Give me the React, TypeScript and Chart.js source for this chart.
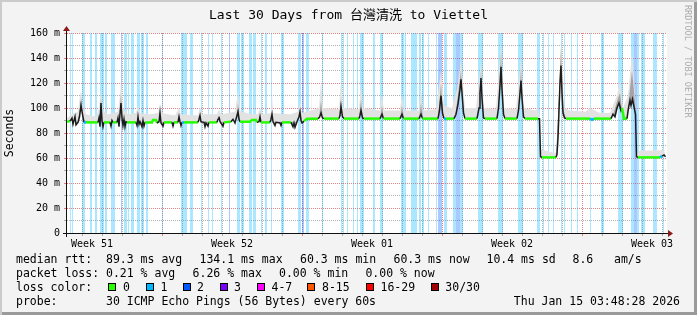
import React, { useEffect, useRef } from 'react';
import { Chart, registerables } from 'chart.js';

Chart.register(...registerables);

// ---------------- data ----------------
const chartTitle = 'Last 30 Days from 台灣清洗 to Viettel';
const yAxisTitle = 'Seconds';
const yMax = 160;
const dayGridDays = [0.75, 1.75, 2.75, 3.75, 4.75, 5.75, 6.75, 7.75, 8.75, 9.75, 10.75, 11.75, 12.75, 13.75, 14.75, 15.75, 16.75, 17.75, 18.75, 19.75, 20.75, 21.75, 22.75, 23.75, 24.75, 25.75, 26.75, 27.75, 28.75, 29.75];
const weekStartDays = [4.75, 11.75, 18.75, 25.75];
const weekLabelDays = [1.25, 8.25, 15.25, 22.25, 29.25];
const weekLabels = ['Week 51', 'Week 52', 'Week 01', 'Week 02', 'Week 03'];

// median rtt [day, ms, tone]  tone: g = 0 loss, b = 1 loss, k = dense smoke core
const medianSeries: [number, number, string][] = [
  [0, 89, 'g'], [0.15, 89.5, 'g'], [0.25, 92, 'k'], [0.3, 87, 'k'], [0.4, 93, 'k'], [0.45, 86.5, 'k'], [0.55, 88.5, 'g'],
  [0.625, 93, 'k'], [0.7, 102, 'k'], [0.775, 95, 'k'], [0.85, 88.5, 'b'], [0.95, 88.5, 'g'], [1.55, 88.5, 'g'],
  [1.6, 92, 'k'], [1.65, 85, 'k'], [1.7, 104, 'k'], [1.75, 90, 'k'], [1.8, 85, 'k'], [1.85, 88.5, 'g'], [2.15, 88.5, 'g'],
  [2.2, 85.5, 'k'], [2.25, 90, 'k'], [2.3, 88.5, 'g'], [2.5, 88.5, 'g'], [2.55, 92, 'k'], [2.6, 85, 'k'], [2.65, 95, 'k'],
  [2.7, 104, 'k'], [2.75, 92, 'k'], [2.8, 86, 'k'], [2.85, 91, 'k'], [2.9, 85, 'k'], [2.95, 89, 'k'], [3.0, 88.5, 'g'],
  [3.45, 88.5, 'g'], [3.5, 86, 'k'], [3.55, 93, 'k'], [3.6, 87, 'k'], [3.65, 89, 'g'], [3.75, 85, 'k'], [3.8, 90, 'k'],
  [3.85, 85.5, 'k'], [3.9, 88.5, 'g'], [4.25, 88.5, 'g'], [4.3, 90.5, 'g'], [4.45, 90.5, 'g'], [4.5, 88, 'g'],
  [4.6, 89, 'k'], [4.65, 96, 'k'], [4.7, 88, 'k'], [4.8, 85.5, 'k'], [4.85, 88.5, 'g'], [5.25, 88.5, 'g'], [5.3, 85.5, 'k'],
  [5.35, 88.5, 'g'], [5.55, 88.5, 'g'], [5.6, 93, 'k'], [5.65, 89, 'k'], [5.7, 86, 'k'], [5.75, 88.5, 'b'], [5.85, 88.5, 'g'],
  [6.55, 88.5, 'g'], [6.6, 91, 'k'], [6.65, 94, 'k'], [6.7, 89, 'k'], [6.85, 88.5, 'g'], [6.9, 85, 'k'], [6.95, 88, 'k'],
  [7.05, 85.5, 'k'], [7.1, 88.5, 'g'], [7.5, 88.5, 'g'], [7.55, 91, 'k'], [7.6, 93, 'k'], [7.65, 89, 'g'], [7.8, 85.5, 'k'],
  [7.85, 88.5, 'g'], [8.2, 89, 'g'], [8.3, 91, 'k'], [8.4, 88, 'k'], [8.5, 94, 'k'], [8.55, 97, 'k'], [8.6, 91, 'k'],
  [8.65, 89, 'g'], [9.15, 89, 'g'], [9.25, 90.5, 'g'], [9.45, 90.5, 'g'], [9.5, 88.5, 'g'], [9.6, 89, 'k'], [9.65, 93, 'k'],
  [9.7, 88.5, 'g'], [10.15, 88.5, 'g'], [10.2, 91, 'k'], [10.25, 95, 'k'], [10.3, 89, 'k'], [10.4, 86, 'k'], [10.45, 88.5, 'g'],
  [10.65, 88, 'k'], [10.7, 86, 'k'], [10.75, 88.5, 'g'], [11.2, 88.5, 'g'], [11.3, 85, 'k'], [11.35, 88, 'k'], [11.4, 84.5, 'k'],
  [11.5, 89, 'k'], [11.6, 93, 'k'], [11.65, 97, 'k'], [11.7, 90, 'k'], [11.75, 88, 'k'], [11.85, 89.5, 'g'], [12.0, 91.5, 'g'],
  [12.55, 91.5, 'g'], [12.625, 92.5, 'k'], [12.7, 96, 'k'], [12.775, 92, 'k'], [12.85, 91.5, 'g'], [13.6, 91.5, 'g'],
  [13.65, 94, 'k'], [13.7, 101, 'k'], [13.775, 93, 'k'], [13.85, 91.5, 'g'], [14.6, 91.5, 'g'], [14.65, 94, 'k'], [14.7, 98, 'k'],
  [14.775, 92, 'k'], [14.85, 91.5, 'g'], [15.65, 91.5, 'g'], [15.75, 95, 'k'], [15.825, 91.5, 'g'], [16.65, 91.5, 'g'],
  [16.75, 95, 'k'], [16.825, 91.5, 'g'], [17.6, 91.5, 'g'], [17.7, 95, 'k'], [17.775, 91.5, 'g'], [18.55, 91.5, 'g'],
  [18.625, 98, 'k'], [18.7, 110, 'k'], [18.775, 96, 'k'], [18.85, 91.5, 'b'], [18.95, 91.5, 'g'], [19.35, 91.5, 'g'],
  [19.45, 95, 'k'], [19.55, 103, 'k'], [19.65, 115, 'k'], [19.7, 123, 'k'], [19.75, 112, 'k'], [19.825, 96, 'k'], [19.9, 91.5, 'g'],
  [20.5, 91.5, 'g'], [20.6, 100, 'k'], [20.65, 112, 'k'], [20.7, 124, 'k'], [20.75, 108, 'k'], [20.825, 92, 'k'], [20.9, 91.5, 'g'],
  [21.5, 91.5, 'g'], [21.575, 100, 'k'], [21.65, 118, 'k'], [21.7, 133, 'k'], [21.75, 115, 'k'], [21.825, 95, 'k'], [21.9, 91.5, 'g'],
  [22.5, 91.5, 'g'], [22.575, 98, 'k'], [22.65, 112, 'k'], [22.7, 122, 'k'], [22.75, 108, 'k'], [22.825, 93, 'k'], [22.9, 91.5, 'g'],
  [23.55, 91.5, 'g'], [23.625, 91.5, 'k'], [23.675, 61, 'k'], [23.75, 60.5, 'g'], [24.45, 60.5, 'g'], [24.5, 63, 'k'],
  [24.55, 76, 'k'], [24.6, 98, 'k'], [24.65, 120, 'k'], [24.7, 134, 'k'], [24.75, 112, 'k'], [24.8, 96, 'k'], [24.875, 92, 'k'],
  [24.95, 91.5, 'g'], [26.15, 91.5, 'g'], [26.25, 90.5, 'b'], [26.35, 91.5, 'g'], [27.2, 91.5, 'g'], [27.3, 95, 'k'],
  [27.4, 93, 'k'], [27.5, 100, 'k'], [27.6, 104, 'k'], [27.7, 98, 'k'], [27.75, 100, 'g'], [27.85, 91.5, 'g'], [28.0, 91.5, 'g'],
  [28.075, 100, 'k'], [28.15, 106, 'k'], [28.2, 102, 'k'], [28.275, 107, 'k'], [28.35, 101, 'k'], [28.425, 95, 'k'],
  [28.475, 61, 'k'], [28.55, 60.5, 'g'], [29.65, 60.5, 'g'], [29.75, 61.5, 'b'], [29.85, 62.5, 'k'], [29.925, 61, 'g'],
];

// smoke: highest ping of the 30 [day, ms]
const smokeMax: [number, number][] = [
  [0, 92], [0.25, 95], [0.55, 97], [0.65, 110], [0.7, 114], [0.8, 100], [0.95, 95], [1.45, 93], [1.6, 100], [1.7, 114],
  [1.8, 98], [2.05, 95], [2.55, 97], [2.65, 110], [2.7, 122], [2.8, 100], [3.05, 95], [3.45, 96], [3.55, 102], [3.65, 96],
  [4.15, 95], [4.55, 96], [4.65, 104], [4.75, 96], [5.4, 94], [5.6, 100], [5.7, 95], [6.55, 94], [6.65, 101], [6.75, 95],
  [7.5, 95], [7.6, 99], [7.7, 95], [8.4, 97], [8.55, 113], [8.65, 98], [9.15, 95], [9.55, 95], [9.65, 100], [9.75, 95],
  [10.2, 96], [10.25, 112], [10.3, 96], [11.15, 95], [11.55, 97], [11.65, 104], [11.75, 96], [11.95, 97], [12.15, 98],
  [12.2, 98], [12.225, 140], [12.25, 98], [12.6, 100], [12.7, 122], [12.8, 100], [13.6, 99], [13.7, 122], [13.8, 100],
  [14.6, 99], [14.7, 120], [14.8, 100], [15.65, 98], [15.75, 112], [15.85, 98], [16.65, 98], [16.75, 112], [16.85, 98],
  [17.6, 98], [17.7, 117], [17.8, 98], [18.45, 99], [18.7, 130], [18.85, 102], [19.25, 100], [19.5, 115], [19.7, 138],
  [19.9, 100], [20.45, 100], [20.7, 137], [20.85, 100], [21.45, 99], [21.7, 153], [21.85, 100], [22.45, 99], [22.7, 140],
  [22.85, 100], [23.4, 98], [23.55, 100], [23.625, 93], [23.675, 67], [23.9, 66], [24.4, 64], [24.5, 65], [24.7, 155],
  [24.85, 100], [25.15, 98], [25.9, 97], [26.15, 100], [26.65, 96], [27.15, 96], [27.5, 110], [27.65, 122], [27.8, 100],
  [28.05, 110], [28.25, 145], [28.4, 110], [28.475, 63], [28.65, 66], [29.65, 66], [29.85, 67], [29.925, 61],
];

// smoke: dense core around the median [day, ms]
const smokeCore: [number, number][] = [
  [0, 88.5], [0.55, 89], [0.675, 104], [0.725, 108], [0.8, 90], [1.6, 89], [1.7, 108], [1.775, 89], [2.6, 89], [2.7, 112],
  [2.775, 89], [8.45, 89], [8.55, 104], [8.65, 89], [11.55, 89], [11.65, 99], [11.75, 89], [11.95, 89], [12.0, 91.5],
  [12.6, 91.5], [12.7, 106], [12.8, 91.5], [13.6, 91.5], [13.7, 108], [13.8, 91.5], [14.6, 91.5], [14.7, 107], [14.8, 91.5],
  [15.65, 91.5], [15.75, 102], [15.85, 91.5], [16.65, 91.5], [16.75, 102], [16.85, 91.5], [17.6, 91.5], [17.7, 104],
  [17.8, 91.5], [18.55, 92], [18.7, 120], [18.8, 92], [19.4, 92], [19.7, 130], [19.85, 92], [20.55, 92], [20.7, 130],
  [20.825, 92], [21.55, 92], [21.7, 145], [21.825, 93], [22.55, 92], [22.7, 132], [22.825, 92], [23.55, 91.5], [23.65, 61],
  [24.45, 60.5], [24.6, 110], [24.7, 148], [24.8, 100], [24.95, 91.5], [27.25, 91.5], [27.55, 108], [27.65, 112],
  [27.8, 91.5], [28.0, 93], [28.25, 130], [28.4, 105], [28.475, 60.5], [29.925, 60.5],
];

// loss periods [from day, to day]
const lossOne: [number, number][] = [
  [0.15, 0.2], [0.25, 0.3], [0.75, 0.9], [1.15, 1.25], [1.4, 1.5], [1.65, 1.85], [1.9, 2.0], [2.2, 2.4], [2.85, 3.0],
  [3.05, 3.1], [3.2, 3.35], [3.5, 3.65], [3.7, 3.85], [3.95, 4.05], [4.75, 4.8], [5.7, 6.0], [6.15, 6.3], [6.7, 6.75],
  [7.05, 7.1], [7.25, 7.3], [7.7, 7.75], [8.5, 8.65], [8.7, 8.85], [9.1, 9.25], [9.3, 9.45], [9.7, 9.75], [9.9, 10.0],
  [10.2, 10.25], [10.7, 10.85], [11.55, 11.7], [11.95, 12.1], [12.75, 12.8], [13.7, 13.75], [13.8, 13.85], [14.0, 14.05],
  [14.3, 14.35], [14.5, 14.55], [14.65, 14.85], [15.3, 15.4], [15.65, 15.8], [16.7, 16.85], [16.9, 16.95], [17.2, 17.5],
  [17.6, 17.7], [17.75, 17.85], [18.05, 18.1], [18.2, 18.25], [18.45, 18.5], [18.85, 19.0], [19.3, 19.45], [19.65, 19.8],
  [20.55, 20.8], [21.55, 21.8], [22.55, 22.8], [23.5, 23.65], [23.8, 23.85], [24.05, 24.1], [24.3, 24.35], [24.7, 24.75],
  [24.85, 24.9], [25.2, 25.25], [25.5, 25.55], [26.15, 26.2], [26.7, 26.85], [27.55, 27.8], [28.2, 28.35], [28.5, 28.6],
  [28.7, 28.9], [29.3, 29.5], [29.8, 29.85],
];
const lossTwo: [number, number][] = [
  [2.7, 2.75], [8.1, 8.15], [11.75, 11.85], [18.55, 18.75], [19.45, 19.65], [28.35, 28.5],
];

const legendMedian = ['median rtt:  89.3 ms avg', '134.1 ms max', '60.3 ms min', '60.3 ms now', '10.4 ms sd', '8.6', 'am/s'];
const legendLoss = ['packet loss: 0.21 % avg', '6.26 % max', '0.00 % min', '0.00 % now'];
const lossColorTitle = 'loss color:';
const lossColorLabels = ['0', '1', '2', '3', '4-7', '8-15', '16-29', '30/30'];
const lossColors = ['#26ff00', '#00b8ff', '#0059ff', '#7e00ff', '#ff00ff', '#ff5500', '#ff0000', '#a10000'];
const probeText = 'probe:       30 ICMP Echo Pings (56 Bytes) every 60s';
const stampText = 'Thu Jan 15 03:48:28 2026';
const watermark = 'RRDTOOL / TOBI OETIKER';

// ---------------- layout / style ----------------
const MONO = '"DejaVu Sans Mono", "Noto Sans CJK TC", monospace';
const medianX = [16, 199.5, 300, 393.5, 486.5, 572.5, 614];
const lossX = [16, 192.6, 279, 365.4];
const boxX = [108, 145.5, 182.5, 219.5, 256.5, 307, 365.5, 430.5];
const boxLabelX = [123, 160.5, 197, 234, 271.5, 322, 380.5, 445.3];
const GRID_MINOR = 'rgba(150,150,150,0.75)';
const GRID_MAJOR = 'rgba(225,90,90,0.75)';

const near = (a: number, list: number[]) => list.some((v) => Math.abs(v - a) < 1e-6);

const toBars = (ranges: [number, number][]) =>
  ranges.flatMap(([a, b]) => [
    { x: a, y: 0 },
    { x: a, y: yMax },
    { x: b, y: yMax },
    { x: b, y: 0 },
  ]);

const toneAt = (i: number) => (medianSeries[i] ? medianSeries[i][2] : 'g');

const framePlugin = {
  id: 'rrdFrame',
  beforeDraw(chart: any) {
    const { ctx, chartArea: a } = chart;
    ctx.save();
    ctx.fillStyle = '#ffffff';
    ctx.fillRect(a.left, a.top, a.right - a.left, a.bottom - a.top);
    ctx.restore();
  },
  afterDatasetsDraw(chart: any) {
    const { ctx, chartArea: a } = chart;
    ctx.save();
    ctx.strokeStyle = '#111111';
    ctx.lineWidth = 1;
    ctx.beginPath();
    ctx.moveTo(a.left - 4, a.bottom + 0.5);
    ctx.lineTo(a.right + 2, a.bottom + 0.5);
    ctx.moveTo(a.left - 0.5, a.bottom + 4);
    ctx.lineTo(a.left - 0.5, a.top - 3);
    ctx.stroke();
    ctx.fillStyle = '#8b1a1a';
    ctx.beginPath();
    ctx.moveTo(a.left - 0.5, a.top - 7);
    ctx.lineTo(a.left - 4, a.top - 2);
    ctx.lineTo(a.left + 3, a.top - 2);
    ctx.closePath();
    ctx.fill();
    ctx.beginPath();
    ctx.moveTo(a.right + 6, a.bottom + 0.5);
    ctx.lineTo(a.right + 1, a.bottom - 3);
    ctx.lineTo(a.right + 1, a.bottom + 4);
    ctx.closePath();
    ctx.fill();
    ctx.restore();
  },
};

export default function App() {
  const ref = useRef<HTMLCanvasElement>(null);

  useEffect(() => {
    document.body.style.margin = '0';
    const canvas = ref.current;
    if (!canvas) return;

    const xTicks = [...dayGridDays, ...weekLabelDays].sort((p, q) => p - q);

    const chart = new Chart(canvas, {
      type: 'line',
      data: {
        datasets: [
          {
            label: 'median',
            data: medianSeries.map(([x, y]) => ({ x, y })),
            order: 0,
            fill: false,
            pointRadius: 0,
            tension: 0,
            borderColor: '#26ff00',
            borderWidth: 2.5,
            segment: {
              borderColor: (c: any) => {
                const p = toneAt(c.p0DataIndex);
                const q = toneAt(c.p1DataIndex);
                if (p === 'k' || q === 'k') return '#1c1c1c';
                if (p === 'b' || q === 'b') return '#00b8ff';
                return '#26ff00';
              },
              borderWidth: (c: any) =>
                toneAt(c.p0DataIndex) === 'k' || toneAt(c.p1DataIndex) === 'k' ? 1.5 : 2.5,
            },
          } as any,
          {
            label: 'smoke core',
            data: smokeCore.map(([x, y]) => ({ x, y })),
            order: 1,
            pointRadius: 0,
            borderWidth: 0,
            borderColor: 'transparent',
            tension: 0,
            fill: { target: 0, above: '#a4a4a4', below: 'transparent' },
          } as any,
          {
            label: 'smoke max',
            data: smokeMax.map(([x, y]) => ({ x, y })),
            order: 2,
            pointRadius: 0,
            borderWidth: 0,
            borderColor: 'transparent',
            tension: 0,
            fill: { target: 0, above: '#e2e2e2', below: 'transparent' },
          } as any,
          {
            label: 'loss 1',
            data: toBars(lossOne),
            order: 3,
            pointRadius: 0,
            borderWidth: 0,
            borderColor: 'transparent',
            backgroundColor: 'rgba(0,184,255,0.33)',
            tension: 0,
            fill: 'origin',
          } as any,
          {
            label: 'loss 2',
            data: toBars(lossTwo),
            order: 4,
            pointRadius: 0,
            borderWidth: 0,
            borderColor: 'transparent',
            backgroundColor: 'rgba(0,89,255,0.33)',
            tension: 0,
            fill: 'origin',
          } as any,
        ],
      },
      options: {
        animation: false,
        responsive: false,
        events: [],
        layout: { padding: { left: 0, right: 0, top: 0, bottom: 64 } },
        plugins: {
          legend: { display: false },
          tooltip: { enabled: false },
          title: {
            display: true,
            text: chartTitle,
            color: '#000000',
            font: { family: MONO, size: 13, weight: 'normal' },
            padding: { top: 8, bottom: 9.4 },
          },
        },
        scales: {
          x: {
            type: 'linear',
            min: 0,
            max: 30,
            afterBuildTicks: (s: any) => {
              s.ticks = xTicks.map((value) => ({ value }));
            },
            afterFit: (s: any) => {
              s.height = 18;
            },
            ticks: {
              autoSkip: false,
              maxRotation: 0,
              minRotation: 0,
              padding: 2,
              color: '#000000',
              font: { family: MONO, size: 10 },
              callback: (v: any) => {
                const i = weekLabelDays.findIndex((d) => Math.abs(d - Number(v)) < 1e-6);
                return i >= 0 ? weekLabels[i] : '';
              },
            },
            grid: {
              lineWidth: 1,
              tickLength: 3,
              color: (c: any) =>
                near(c.tick.value, weekLabelDays) ? 'transparent' : near(c.tick.value, weekStartDays) ? GRID_MAJOR : GRID_MINOR,
              tickColor: (c: any) =>
                near(c.tick.value, weekLabelDays) ? 'transparent' : near(c.tick.value, weekStartDays) ? GRID_MAJOR : GRID_MINOR,
            },
            border: { display: false, dash: [1, 1] },
          },
          y: {
            type: 'linear',
            min: 0,
            max: yMax,
            afterFit: (s: any) => {
              s.width = 67;
            },
            ticks: {
              stepSize: 10,
              autoSkip: false,
              padding: 4,
              color: '#000000',
              font: { family: MONO, size: 10 },
              callback: (v: any) => {
                const n = Number(v);
                if (n % 20 !== 0) return '';
                return n === 0 ? '0' : `${n} m`;
              },
            },
            grid: {
              lineWidth: 1,
              tickLength: 3,
              color: (c: any) => (c.tick.value % 20 === 0 ? GRID_MAJOR : GRID_MINOR),
              tickColor: (c: any) => (c.tick.value % 20 === 0 ? GRID_MAJOR : GRID_MINOR),
            },
            border: { display: false, dash: [1, 1] },
            title: {
              display: true,
              text: yAxisTitle,
              color: '#000000',
              font: { family: MONO, size: 11.5 },
              padding: { top: 3, bottom: 0 },
            },
          },
          yRight: {
            type: 'linear',
            position: 'right',
            min: 0,
            max: yMax,
            afterFit: (s: any) => {
              s.width = 30;
            },
            ticks: { display: false },
            grid: { display: false, drawOnChartArea: false },
            border: { display: false },
          },
        },
      } as any,
      plugins: [framePlugin],
    });

    return () => chart.destroy();
  }, []);

  const rowStyle = (top: number): React.CSSProperties => ({
    position: 'absolute',
    left: 0,
    top,
    height: 14,
    width: 697,
    font: `11.5px ${MONO}`,
    lineHeight: '14px',
    color: '#000',
    whiteSpace: 'pre',
  });

  return (
    <div
      style={{
        position: 'relative',
        width: 697,
        height: 315,
        background: '#f3f3f3',
        overflow: 'hidden',
        boxShadow: 'inset 2px 2px 0 #cbcbcb, inset -3px -3px 0 #9a9a9a',
      }}
    >
      <canvas ref={ref} width={697} height={315} style={{ position: 'absolute', left: 0, top: 0 }} />
      <div
        style={{
          position: 'absolute',
          left: 683,
          top: 5,
          writingMode: 'vertical-rl',
          font: `8.5px ${MONO}`,
          color: '#acacac',
          whiteSpace: 'pre',
          lineHeight: '10px',
        }}
      >
        {watermark}
      </div>
      <div style={rowStyle(252)}>
        {legendMedian.map((t, i) => (
          <span key={i} style={{ position: 'absolute', left: medianX[i] }}>{t}</span>
        ))}
      </div>
      <div style={rowStyle(266)}>
        {legendLoss.map((t, i) => (
          <span key={i} style={{ position: 'absolute', left: lossX[i] }}>{t}</span>
        ))}
      </div>
      <div style={rowStyle(280)}>
        <span style={{ position: 'absolute', left: 16 }}>{lossColorTitle}</span>
        {lossColorLabels.map((t, i) => (
          <React.Fragment key={i}>
            <span
              style={{
                position: 'absolute',
                left: boxX[i],
                top: 3,
                width: 8,
                height: 8,
                boxSizing: 'border-box',
                border: '1px solid #000',
                background: lossColors[i],
              }}
            />
            <span style={{ position: 'absolute', left: boxLabelX[i] }}>{t}</span>
          </React.Fragment>
        ))}
      </div>
      <div style={rowStyle(294)}>
        <span style={{ position: 'absolute', left: 16 }}>{probeText}</span>
        <span style={{ position: 'absolute', right: 17 }}>{stampText}</span>
      </div>
    </div>
  );
}
